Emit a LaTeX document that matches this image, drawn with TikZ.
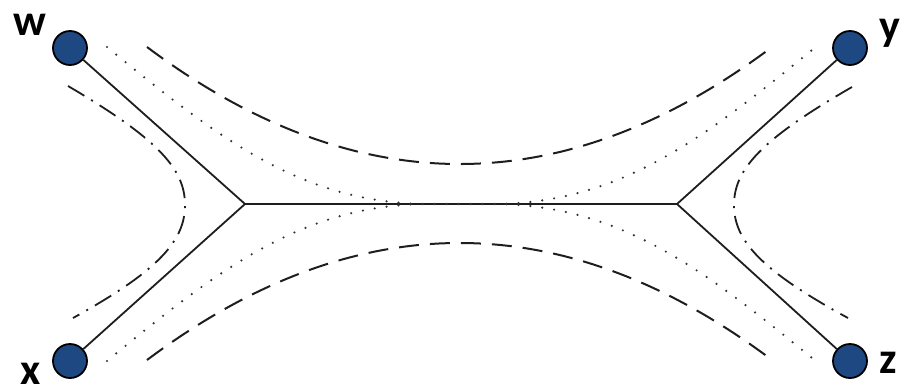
\documentclass[tikz,border=0pt]{standalone}
\usepackage{fontspec}
\setmainfont{Carlito}
\definecolor{nodeblue}{RGB}{30,72,130}
\definecolor{linegray}{RGB}{30,30,30}
\begin{document}
\begin{tikzpicture}[x=1pt,y=-1pt,
  vertex/.style={circle,draw=black,line width=1.8pt,fill=nodeblue,minimum size=34pt,inner sep=0pt},
  lbl/.style={font=\fontsize{44}{44}\selectfont\bfseries,inner sep=0pt,anchor=base},
  edge/.style={draw=linegray,line width=1.8pt},
  dotline/.style={draw=black!80,line width=2.4pt,line cap=round,dash pattern=on 0pt off 12pt},
  dashline/.style={draw=linegray,line width=2pt,dash pattern=on 20pt off 11pt},
  dashdotline/.style={draw=linegray,line width=1.8pt,dash pattern=on 19pt off 8pt on 2pt off 8pt}]
\useasboundingbox (0,0) rectangle (910,389);
% nodes
\node[vertex] (w) at (70,48) {};
\node[vertex] (x) at (70,361) {};
\node[vertex] (y) at (850,48) {};
\node[vertex] (z) at (850,361) {};
\node[lbl] (lw) at (30,35) {w};
\node[lbl] (lx) at (31,384) {x};
\node[lbl] (ly) at (890,40) {y};
\node[lbl] (lz) at (888,373) {z};
\coordinate (jl) at (245,204);
\coordinate (jr) at (677,204);
% tree edges
\draw[edge] (w) -- (jl);
\draw[edge] (x) -- (jl);
\draw[edge] (jl) -- (jr);
\draw[edge] (jr) -- (y);
\draw[edge] (jr) -- (z);
% dotted paths
\draw[dotline] (107,47) .. controls (220,140) and (300,200) .. (420,204) -- (502,204) .. controls (622,200) and (702,140) .. (812,50);
\draw[dotline] (107,361) .. controls (220,268) and (300,208) .. (420,204) -- (502,204) .. controls (622,208) and (702,268) .. (812,358);
% dashed paths
\draw[dashline] (147,47) .. controls (354,202) and (561,203) .. (768,50);
\draw[dashline] (147,360) .. controls (354,205) and (561,204) .. (768,357);
% dash-dot paths
\draw[dashdotline] (68,86) .. controls (160,140) and (185,170) .. (185,205) .. controls (185,240) and (160,270) .. (73,318);
\draw[dashdotline] (852,87) .. controls (760,140) and (734,170) .. (734,205) .. controls (734,240) and (760,270) .. (848,318);
\end{tikzpicture}
\end{document}
